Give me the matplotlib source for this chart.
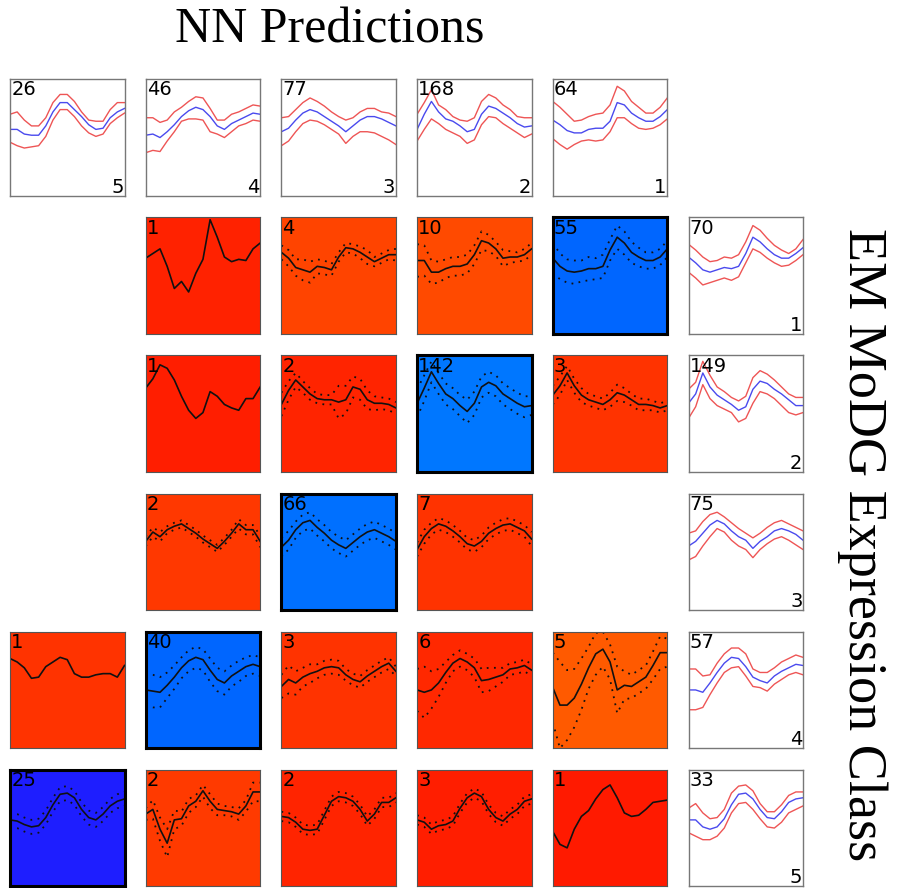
import matplotlib
matplotlib.use("Agg")
import matplotlib.pyplot as plt

# NN class profiles (top row), columns left->right
nn_labels = [5, 4, 3, 2, 1]
nn_counts = [26, 46, 77, 168, 64]
nn_mean = [
    [57, 57, 53, 52, 52, 60, 72, 80, 80, 74, 68, 61, 57, 58, 67, 72, 75],
    [52, 53, 50, 55, 61, 68, 73, 76, 74, 68, 60, 57, 62, 65, 68, 71, 70],
    [55, 58, 65, 71, 74, 72, 68, 64, 60, 55, 60, 65, 68, 68, 66, 63, 60],
    [57, 70, 81, 72, 66, 64, 60, 55, 57, 70, 77, 75, 71, 67, 62, 59, 60],
    [65, 61, 56, 54, 54, 57, 58, 58, 64, 80, 78, 71, 67, 64, 64, 68, 74],
]
nn_hi = [
    [70, 72, 65, 60, 60, 67, 80, 87, 87, 81, 72, 65, 64, 64, 74, 80, 80],
    [67, 67, 63, 65, 72, 76, 81, 85, 84, 75, 65, 65, 70, 72, 75, 78, 77],
    [67, 68, 74, 80, 84, 81, 77, 72, 68, 65, 67, 72, 75, 75, 72, 71, 68],
    [70, 80, 91, 78, 74, 68, 65, 64, 67, 81, 87, 84, 78, 74, 68, 67, 67],
    [81, 76, 70, 64, 65, 68, 70, 71, 78, 94, 90, 81, 76, 71, 71, 76, 84],
]
nn_lo = [
    [46, 43, 41, 42, 43, 51, 65, 74, 74, 68, 60, 54, 51, 53, 62, 67, 71],
    [37, 39, 38, 47, 55, 64, 66, 66, 65, 55, 53, 50, 55, 60, 62, 65, 64],
    [43, 47, 55, 62, 65, 64, 61, 57, 53, 45, 51, 55, 55, 54, 51, 48, 44],
    [47, 57, 66, 62, 57, 54, 51, 45, 48, 61, 68, 67, 62, 58, 54, 50, 53],
    [49, 44, 40, 44, 47, 48, 47, 48, 55, 67, 67, 62, 58, 57, 58, 61, 66],
]

# EM class profiles (right column), rows top->bottom
em_labels = [1, 2, 3, 4, 5]
em_counts = [70, 149, 75, 57, 33]
em_mean = [
    [66, 61, 55, 53, 55, 57, 56, 58, 69, 83, 79, 73, 68, 65, 65, 69, 74],
    [59, 67, 85, 73, 66, 62, 58, 53, 56, 71, 78, 76, 71, 67, 62, 57, 57],
    [55, 59, 66, 73, 77, 74, 68, 63, 60, 53, 59, 63, 68, 70, 68, 65, 60],
    [50, 50, 48, 56, 65, 73, 78, 77, 70, 61, 58, 56, 62, 66, 69, 72, 71],
    [57, 57, 51, 49, 51, 58, 70, 79, 80, 75, 66, 59, 58, 64, 72, 75, 76],
]
em_hi = [
    [77, 72, 66, 62, 63, 66, 65, 68, 79, 93, 89, 82, 76, 72, 69, 73, 81],
    [71, 77, 95, 83, 73, 69, 64, 61, 65, 81, 87, 84, 79, 73, 67, 64, 64],
    [66, 68, 76, 82, 84, 80, 75, 70, 66, 62, 66, 71, 75, 77, 74, 71, 68],
    [68, 68, 62, 63, 73, 81, 86, 86, 81, 68, 65, 65, 69, 74, 77, 80, 78],
    [67, 71, 63, 58, 59, 66, 80, 86, 87, 82, 71, 64, 64, 70, 78, 81, 81],
]
em_lo = [
    [53, 48, 42, 44, 46, 48, 46, 49, 61, 73, 70, 65, 61, 58, 59, 63, 68],
    [46, 56, 75, 63, 57, 54, 51, 43, 46, 59, 69, 67, 63, 57, 51, 49, 51],
    [43, 46, 55, 63, 70, 67, 60, 55, 52, 45, 52, 57, 61, 63, 60, 56, 52],
    [33, 33, 35, 46, 56, 65, 69, 70, 62, 53, 52, 49, 55, 59, 63, 65, 63],
    [46, 43, 40, 40, 43, 50, 63, 71, 72, 66, 58, 51, 50, 55, 63, 66, 69],
]

# confusion cells: EM row index, NN column index, gene count, mean, sd
cell_rows = [0, 0, 0, 0, 1, 1, 1, 1, 2, 2, 2, 3, 3, 3, 3, 3, 4, 4, 4, 4, 4]
cell_cols = [1, 2, 3, 4, 1, 2, 3, 4, 1, 2, 3, 0, 1, 2, 3, 4, 0, 1, 2, 3, 4]
cell_counts = [1, 4, 10, 55, 1, 2, 142, 3, 2, 66, 7, 1, 40, 3, 6, 5, 25, 2, 2, 3, 1]
cell_means = [
    [65, 69, 73, 58, 39, 45, 36, 52, 64, 98, 83, 66, 62, 64, 63, 73, 78],
    [70, 65, 57, 55, 53, 58, 57, 55, 66, 74, 73, 70, 66, 62, 65, 68, 68],
    [63, 63, 53, 53, 56, 58, 58, 60, 68, 80, 78, 73, 65, 66, 66, 68, 73],
    [65, 58, 54, 53, 54, 56, 56, 58, 72, 83, 78, 70, 66, 63, 63, 66, 73],
    [72, 80, 92, 89, 79, 65, 53, 46, 51, 69, 65, 58, 55, 53, 63, 63, 73],
    [58, 70, 79, 73, 67, 63, 62, 62, 60, 62, 73, 71, 62, 59, 59, 58, 55],
    [59, 72, 86, 76, 67, 63, 57, 52, 59, 73, 77, 74, 67, 63, 59, 56, 57],
    [66, 74, 85, 74, 66, 62, 60, 58, 62, 68, 66, 62, 58, 58, 57, 55, 57],
    [59, 67, 63, 69, 72, 74, 70, 66, 61, 57, 53, 59, 66, 74, 69, 69, 59],
    [54, 60, 69, 75, 77, 71, 66, 60, 56, 53, 58, 63, 67, 69, 66, 63, 59],
    [52, 63, 70, 74, 72, 68, 63, 57, 55, 59, 66, 70, 73, 74, 71, 68, 61],
    [77, 74, 69, 60, 61, 70, 74, 78, 76, 64, 61, 61, 63, 64, 64, 61, 71],
    [50, 49, 48, 54, 61, 69, 75, 78, 76, 67, 59, 56, 62, 66, 70, 72, 70],
    [53, 59, 56, 61, 64, 66, 69, 70, 69, 63, 59, 57, 62, 66, 70, 73, 66],
    [50, 48, 50, 56, 65, 73, 77, 74, 69, 58, 59, 61, 63, 68, 69, 71, 67],
    [52, 37, 37, 43, 55, 69, 81, 85, 74, 50, 54, 53, 57, 61, 71, 82, 82],
    [57, 56, 53, 51, 52, 59, 70, 79, 80, 76, 66, 59, 57, 62, 69, 73, 75],
    [62, 66, 49, 37, 57, 58, 69, 73, 82, 73, 66, 65, 64, 62, 69, 81, 81],
    [60, 59, 55, 49, 48, 49, 61, 73, 77, 76, 73, 66, 56, 62, 72, 72, 76],
    [57, 55, 49, 52, 53, 56, 67, 76, 80, 77, 66, 59, 56, 62, 66, 73, 75],
    [47, 36, 33, 49, 60, 65, 75, 83, 87, 76, 63, 60, 61, 66, 72, 73, 74],
]
cell_sds = [
    None,
    [6, 7, 7, 9, 9, 6, 6, 5, 4, 4, 4, 5, 6, 4, 4, 4, 5],
    [14, 13, 10, 9, 8, 8, 8, 8, 8, 8, 7, 6, 7, 5, 4, 5, 5],
    [13, 11, 10, 10, 9, 10, 9, 10, 9, 10, 10, 9, 8, 7, 7, 7, 7],
    None,
    [10, 8, 6, 5, 5, 4, 4, 4, 14, 12, 9, 9, 8, 6, 5, 5, 5],
    [12, 11, 9, 9, 9, 9, 9, 10, 10, 9, 9, 9, 9, 9, 9, 9, 8],
    [8, 8, 6, 6, 6, 5, 5, 5, 6, 7, 6, 5, 5, 5, 4, 4, 4],
    [4, 4, 4, 3, 3, 3, 3, 3, 3, 3, 3, 3, 3, 4, 4, 4, 5],
    [8, 8, 7, 7, 7, 7, 7, 7, 7, 7, 7, 7, 7, 7, 7, 7, 7],
    [6, 6, 5, 5, 5, 5, 5, 5, 5, 5, 5, 5, 5, 5, 5, 5, 6],
    None,
    [14, 14, 13, 11, 10, 9, 9, 9, 9, 10, 10, 10, 9, 9, 8, 8, 8],
    [10, 12, 10, 8, 8, 6, 6, 6, 6, 5, 5, 5, 5, 5, 5, 5, 4],
    [18, 22, 16, 12, 9, 7, 7, 7, 8, 10, 10, 8, 6, 5, 5, 5, 5],
    [30, 37, 30, 25, 22, 18, 18, 15, 15, 20, 12, 10, 10, 10, 12, 14, 12],
    [6, 6, 6, 6, 6, 6, 6, 6, 6, 6, 6, 6, 6, 6, 6, 6, 6],
    [5, 8, 10, 12, 8, 6, 6, 5, 5, 6, 5, 4, 4, 5, 5, 8, 8],
    [4, 4, 4, 4, 4, 4, 4, 4, 4, 4, 4, 4, 4, 4, 4, 4, 4],
    [4, 4, 4, 4, 4, 4, 4, 4, 4, 4, 4, 4, 4, 4, 4, 4, 4],
    None,
]
# cell background colours (style)
cell_colors = ['#ff2200', '#ff4400', '#ff4a00', '#0066ff',
               '#ff1e00', '#ff2400', '#0077ff', '#ff3300',
               '#ff3800', '#0070ff', '#ff3300',
               '#ff3300', '#0066ff', '#ff3300', '#ff2800', '#ff5a00',
               '#1e1eff', '#ff3a00', '#ff2400', '#ff1e00', '#ff1a00']

W, H = 905, 888
fig = plt.figure(figsize=(W / 100, H / 100), dpi=100)

x0, dx, bw = 10, 135.7, 114.5
y0, dy, bh = 79.3, 138.1, 116.5
t = list(range(17))


def make_ax(row, col):
    left = (x0 + col * dx) / W
    bottom = 1 - (y0 + row * dy + bh) / H
    ax = fig.add_axes([left, bottom, bw / W, bh / H])
    ax.set_xlim(0, 16)
    ax.set_ylim(0, 100)
    ax.set_xticks([])
    ax.set_yticks([])
    return ax


def profile(ax, mean, hi, lo, n, label):
    ax.plot(t, hi, color='#ee5555', lw=1)
    ax.plot(t, lo, color='#ee5555', lw=1)
    ax.plot(t, mean, color='#4a4aee', lw=1)
    ax.text(0.01, 0.99, str(n), transform=ax.transAxes, ha='left', va='top', fontsize=14)
    ax.text(0.995, -0.01, str(label), transform=ax.transAxes, ha='right', va='bottom', fontsize=14)
    for s in ax.spines.values():
        s.set_color('#777777')
        s.set_linewidth(1)


# top row: NN predictions
for c in range(5):
    profile(make_ax(0, c), nn_mean[c], nn_hi[c], nn_lo[c], nn_counts[c], nn_labels[c])

# right column: EM classes
for r in range(5):
    profile(make_ax(r + 1, 5), em_mean[r], em_hi[r], em_lo[r], em_counts[r], em_labels[r])

# confusion cells
for k in range(len(cell_counts)):
    ax = make_ax(cell_rows[k] + 1, cell_cols[k])
    ax.set_facecolor(cell_colors[k])
    m = cell_means[k]
    ax.plot(t, m, color='#111111', lw=1.2)
    sd = cell_sds[k]
    if sd is not None:
        ax.plot(t, [a + b for a, b in zip(m, sd)], color='#111111', lw=1.3, ls=(0, (1, 3)))
        ax.plot(t, [a - b for a, b in zip(m, sd)], color='#111111', lw=1.3, ls=(0, (1, 3)))
    ax.text(0.01, 0.99, str(cell_counts[k]), transform=ax.transAxes, ha='left', va='top', fontsize=14)
    diag = cell_rows[k] + cell_cols[k] == 4
    for s in ax.spines.values():
        if diag:
            s.set_color('black')
            s.set_linewidth(2.2)
        else:
            s.set_color('#555555')
            s.set_linewidth(0.8)

fig.text(330 / W, 1 - 30 / H, 'NN Predictions', family='Liberation Serif', fontsize=36,
         ha='center', va='center')
fig.text(862 / W, 1 - 545 / H, 'EM MoDG Expression Class', family='Liberation Serif',
         fontsize=39, rotation=270, ha='center', va='center')

fig.savefig('out.png', dpi=100)
